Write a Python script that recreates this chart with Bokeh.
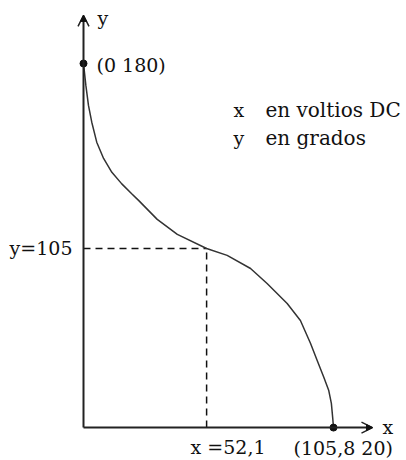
from bokeh.plotting import figure
from bokeh.models import Arrow, OpenHead, NormalHead, Range1d, Label
from bokeh.embed import file_html
from bokeh.resources import INLINE

# ---- data ----
curve_x = [0, 1.0, 2.1, 3.5, 5.6, 8.5, 12.0, 16.2, 20.4, 23.3, 31.2, 39.7, 52.1,
           60.8, 70.7, 77.7, 86.2, 91.8, 96.1, 98.9, 101.7, 103.8, 104.9, 105.5, 105.8]
curve_y = [180, 171.1, 163.0, 156.2, 148.1, 141.5, 135.9, 131.2, 127.2, 124.5, 116.8,
           110.7, 105, 102.2, 96.9, 90.8, 82.7, 75.8, 66.5, 59.6, 52.8, 47.4, 42.2, 36.0, 32.4]
mid_x = 52.1
mid_y = 105
point_labels = ["(0 180)", "y=105", "x =52,1", "(105,8 20)"]
axis_names = ["y", "x"]
legend_vars = ["x", "y"]
legend_desc = ["en voltios DC", "en grados"]

FONT = "DejaVu Serif"
FS = "19px"
INK = "#111111"

base_y = curve_y[-1]
x_tip = 122.3
y_tip = 199.5

p = figure(width=406, height=460, output_backend="svg", toolbar_location=None,
           x_range=Range1d(-35.13, 136.70), y_range=Range1d(19.05, 205.54),
           x_axis_type=None, y_axis_type=None, min_border=0)
p.min_border_left = p.min_border_right = p.min_border_top = p.min_border_bottom = 0
p.grid.visible = False
p.outline_line_color = None
p.background_fill_color = "white"
p.border_fill_color = "white"

# axes with arrows
p.add_layout(Arrow(end=OpenHead(size=11, line_width=1.5, line_color="#222222"),
                   x_start=0, y_start=base_y, x_end=0, y_end=y_tip,
                   line_width=2, line_color="#222222"))
p.add_layout(Arrow(end=OpenHead(size=11, line_width=1.5, line_color="#222222"),
                   x_start=0, y_start=base_y, x_end=x_tip, y_end=base_y,
                   line_width=2, line_color="#222222"))
p.add_layout(Arrow(end=NormalHead(size=6, fill_color="#111111", line_color="#111111"),
                   x_start=0, y_start=y_tip - 3, x_end=0, y_end=y_tip,
                   line_width=0, line_alpha=0))
p.add_layout(Arrow(end=NormalHead(size=6, fill_color="#111111", line_color="#111111"),
                   x_start=x_tip - 3, y_start=base_y, x_end=x_tip, y_end=base_y,
                   line_width=0, line_alpha=0))

# dashed guides
p.line([0, mid_x], [mid_y, mid_y], line_dash="7 5", line_width=1.5, line_color=INK)
p.line([mid_x, mid_x], [base_y, mid_y], line_dash="7 5", line_width=1.5, line_color=INK)

# curve
p.line(curve_x, curve_y, line_width=1.5, line_color="#333333")

# end points
p.scatter([curve_x[0], curve_x[-1]], [curve_y[0], curve_y[-1]], size=7,
          fill_color=INK, line_color=INK)

# point labels (offsets in screen pixels)
anchors_x = [curve_x[0], 0, mid_x, curve_x[-1]]
anchors_y = [curve_y[0], mid_y, base_y, base_y]
xoff = [13, -11, -16, -40]
yoff = [2, 0, 19, 20]
aligns = ["left", "right", "left", "left"]
for t, ax, ay, xo, yo, al in zip(point_labels, anchors_x, anchors_y, xoff, yoff, aligns):
    p.add_layout(Label(x=ax, y=ay, text=t, x_offset=xo, y_offset=-yo,
                       text_align=al, text_baseline="alphabetic",
                       text_font=FONT, text_font_size=FS, text_color=INK))

# axis names
p.add_layout(Label(x=0, y=y_tip, text=axis_names[0], x_offset=14, y_offset=-3,
                   text_baseline="alphabetic", text_font=FONT, text_font_size=FS,
                   text_color=INK))
p.add_layout(Label(x=x_tip, y=base_y, text=axis_names[1], x_offset=10, y_offset=1,
                   text_baseline="alphabetic", text_font=FONT, text_font_size=FS,
                   text_color=INK))

# legend note
note_y = [161.1, 149.8]
for v, d, ny in zip(legend_vars, legend_desc, note_y):
    p.add_layout(Label(x=63.5, y=ny, text=v, text_baseline="alphabetic",
                       text_font=FONT, text_font_size=FS, text_color=INK))
    p.add_layout(Label(x=77.0, y=ny, text=d, text_baseline="alphabetic",
                       text_font=FONT, text_font_size="20px", text_color=INK))

open("out.html", "w").write(file_html(p, INLINE))
